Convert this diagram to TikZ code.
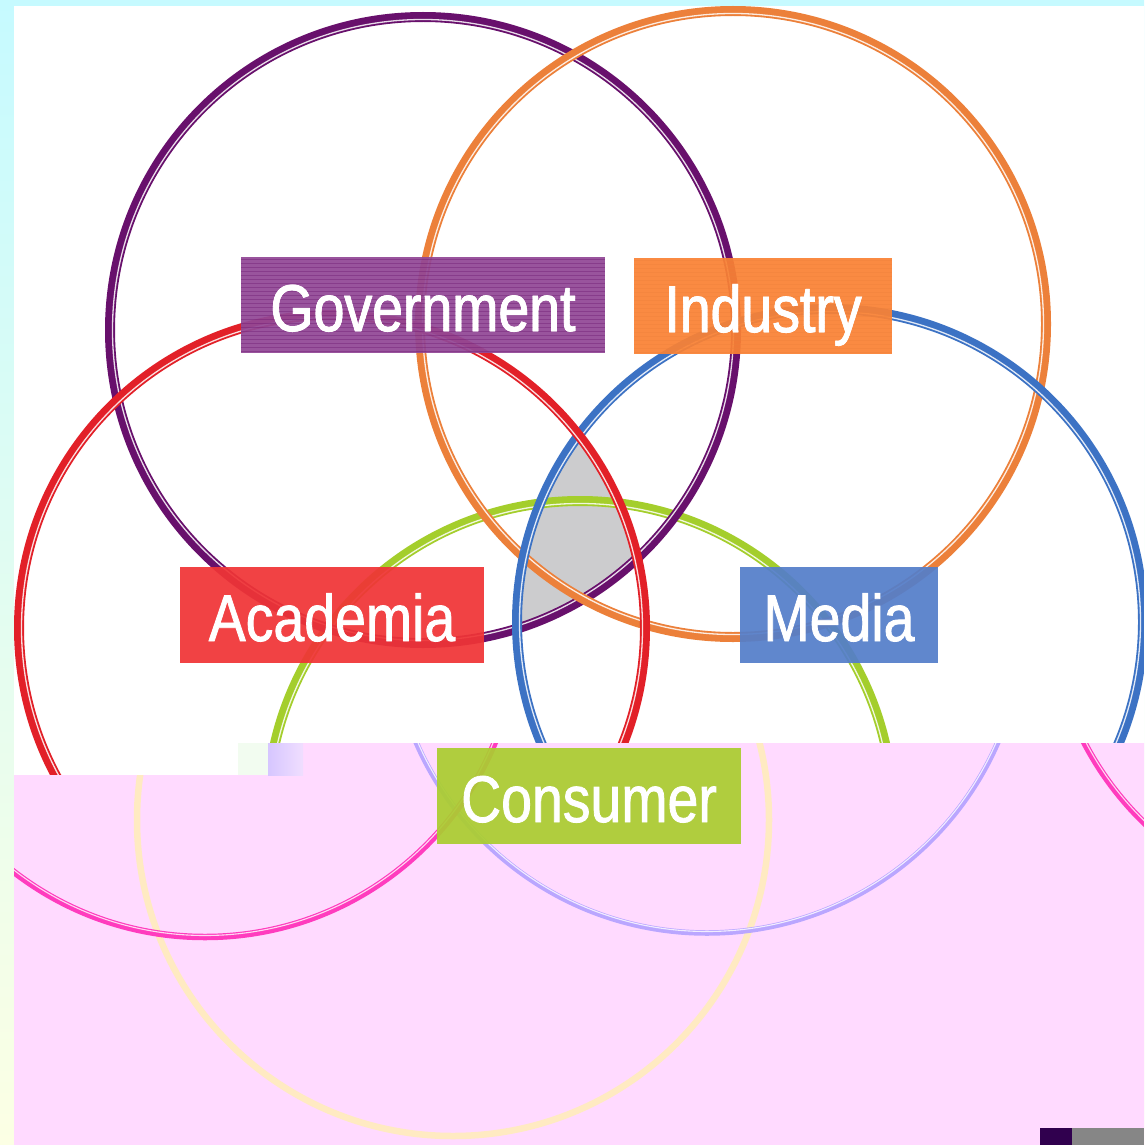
\documentclass[tikz,border=0pt]{standalone}
\usepackage{fontspec}
\newfontfamily\labelfont{Liberation Sans}[FakeStretch=0.84, FakeBold=1.2]
\definecolor{bgtop}{RGB}{198,250,255}
\definecolor{bgbot}{RGB}{252,255,228}
\definecolor{pinkc}{RGB}{255,218,255}
\definecolor{greyc}{RGB}{204,204,206}
\definecolor{govc}{RGB}{104,16,108}
\definecolor{indc}{RGB}{236,128,58}
\definecolor{acac}{RGB}{226,32,40}
\definecolor{medc}{RGB}{60,114,196}
\definecolor{conc}{RGB}{164,206,44}
\definecolor{govf}{RGB}{146,72,150}
\definecolor{indf}{RGB}{250,130,52}
\definecolor{acaf}{RGB}{240,52,54}
\definecolor{medf}{RGB}{84,126,202}
\definecolor{conf}{RGB}{170,205,48}
\definecolor{magc}{RGB}{255,60,190}
\definecolor{lavc}{RGB}{186,166,255}
\definecolor{yelc}{RGB}{255,236,188}
\definecolor{lavA}{RGB}{214,198,255}
\definecolor{lavB}{RGB}{240,222,255}
\definecolor{patchg}{RGB}{242,252,240}
\definecolor{darkp}{RGB}{48,0,78}
\definecolor{greyb}{RGB}{134,134,134}
\begin{document}
\begin{tikzpicture}[x=1pt,y=-1pt,
  labelbox/.style={rectangle, inner sep=0pt, text height=74pt, text depth=22pt,
    fill opacity=0.93, text opacity=1, text=white,
    font=\labelfont\fontsize{66}{70}\selectfont},
  ring/.style={line width=10pt},
  ringstripe/.style={line width=1.3pt, white, opacity=0.85},
  lowring/.style={line width=6.5pt},
  lowstripe/.style={line width=1.1pt, white, opacity=0.8},
  texture/.style={line width=0.9pt, opacity=0.35}]
\useasboundingbox (0,0) rectangle (1144,1145);
% background
\shade[top color=bgtop, bottom color=bgbot] (0,0) rectangle (1144,1145);
\fill[white] (14,6) rectangle (1144,775);
% grey common region (Government, Academia, Media)
\begin{scope}
  \clip (423,330) circle[radius=313];
  \clip (332,628) circle[radius=313];
  \fill[greyc] (830,622) circle[radius=313];
\end{scope}
% upper circles
\begin{scope}
  \clip (14,6) -- (1144,6) -- (1144,743) -- (238,743) -- (238,775) -- (14,775) -- cycle;
  \foreach \cx/\cy/\col in {580/814/conc, 423/330/govc, 733/324/indc, 830/622/medc, 332/628/acac} {
    \draw[ring, \col] (\cx,\cy) circle[radius=313];
    \draw[ringstripe] (\cx,\cy) circle[radius=310.5];
  }
\end{scope}
% lower pink layer
\fill[pinkc] (14,775) -- (238,775) -- (238,743) -- (1144,743) -- (1144,1145) -- (14,1145) -- cycle;
\fill[patchg] (238,743) rectangle (268,775);
\shade[left color=lavA, right color=lavB] (268,743) rectangle (303,775);
\begin{scope}
  \clip (14,775) -- (238,775) -- (238,743) -- (1144,743) -- (1144,1145) -- (14,1145) -- cycle;
  \draw[lowring, yelc, opacity=0.9] (453,820) circle[radius=316];
  \draw[lowring, lavc, line width=5.5pt] (707,616) circle[radius=317];
  \draw[lowstripe] (707,616) circle[radius=315.5];
  \draw[lowring, magc] (205,624) circle[radius=313];
  \draw[lowstripe] (205,624) circle[radius=311.5];
  \draw[lowring, magc] (1362,598) circle[radius=313];
  \draw[lowstripe] (1362,598) circle[radius=311.5];
\end{scope}
% labels
\node[labelbox, fill=govf, minimum width=364pt] (gov) at (423,305) {Government};
\node[labelbox, fill=indf, minimum width=258pt] (ind) at (763,306) {Industry};
\node[labelbox, fill=acaf, minimum width=304pt] (aca) at (332,615) {Academia};
\node[labelbox, fill=medf, minimum width=198pt] (med) at (839,615) {Media};
\node[labelbox, fill=conf, minimum width=304pt] (con) at (589,796) {Consumer};
% halftone-like texture lines in the boxes
\begin{scope}
  \clip (gov.south west) rectangle (gov.north east);
  \foreach \yy in {259,263,...,355} \draw[texture, govc] (241,\yy) -- (605,\yy);
\end{scope}
\begin{scope}
  \clip (ind.south west) rectangle (ind.north east);
  \foreach \yy in {260,264,...,355} \draw[texture, indc] (634,\yy) -- (892,\yy);
\end{scope}
\node[labelbox, fill opacity=0, minimum width=364pt] (govtext) at (gov) {Government};
\node[labelbox, fill opacity=0, minimum width=258pt] (indtext) at (ind) {Industry};
% bottom right marks
\fill[darkp] (1040,1128) rectangle (1072,1145);
\fill[greyb] (1072,1128) rectangle (1144,1145);
\end{tikzpicture}
\end{document}
